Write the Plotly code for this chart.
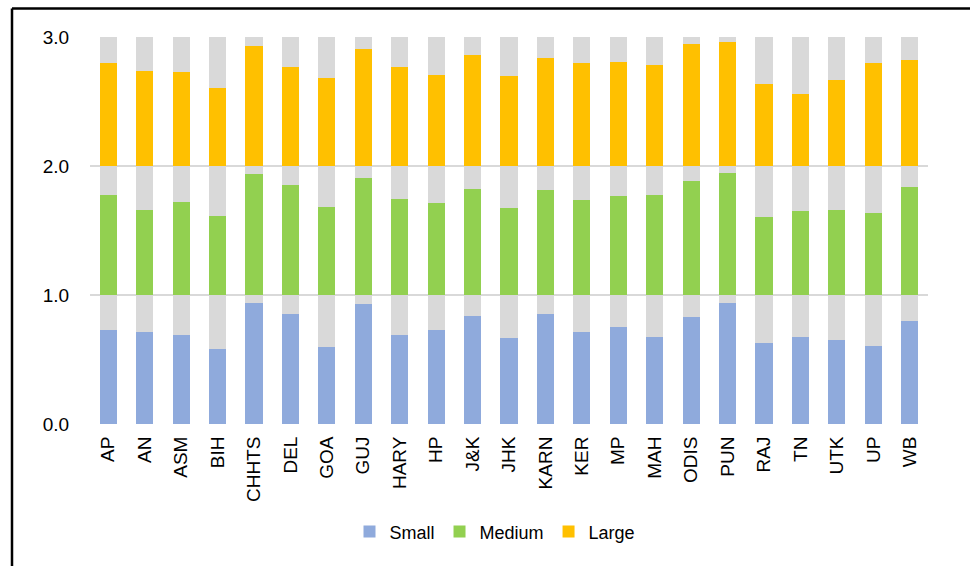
import plotly.graph_objects as go

states = ["AP", "AN", "ASM", "BIH", "CHHTS", "DEL", "GOA", "GUJ", "HARY", "HP", "J&K",
          "JHK", "KARN", "KER", "MP", "MAH", "ODIS", "PUN", "RAJ", "TN", "UTK", "UP", "WB"]
small = [0.73, 0.71, 0.69, 0.58, 0.935, 0.855, 0.60, 0.93, 0.69, 0.73, 0.84,
         0.67, 0.85, 0.715, 0.755, 0.675, 0.83, 0.94, 0.63, 0.675, 0.655, 0.605, 0.80]
medium = [0.775, 0.66, 0.72, 0.615, 0.935, 0.85, 0.68, 0.905, 0.745, 0.715, 0.82,
          0.675, 0.815, 0.74, 0.77, 0.775, 0.885, 0.945, 0.605, 0.65, 0.66, 0.635, 0.84]
large = [0.795, 0.735, 0.73, 0.605, 0.93, 0.77, 0.68, 0.91, 0.765, 0.705, 0.86,
         0.70, 0.84, 0.80, 0.81, 0.785, 0.945, 0.96, 0.635, 0.56, 0.665, 0.795, 0.82]
yticks = [0, 1, 2, 3]

colors = {"Small": "#8FAADC", "Medium": "#92D050", "Large": "#FFC000"}
grey = "#D9D9D9"

fig = go.Figure()
for name, vals in [("Small", small), ("Medium", medium), ("Large", large)]:
    fig.add_trace(go.Bar(x=states, y=vals, name=name, marker_color=colors[name],
                         marker_line_width=0, hoverinfo="x+y+name"))
    fig.add_trace(go.Bar(x=states, y=[1 - v for v in vals], name=name + " rest",
                         marker_color=grey, marker_line_width=0, showlegend=False,
                         hoverinfo="skip"))

W, H = 970, 566
L, R, T, B = 90, 42, 36.5, 142
pw, ph = W - L - R, H - T - B

def px_x(x):
    return (x - L) / pw

def px_y(y):
    return (H - B - y) / ph

FONT = "Liberation Sans, Arial, sans-serif"

fig.update_layout(
    width=W, height=H,
    margin=dict(l=L, r=R, t=T, b=B, pad=0),
    barmode="stack", bargap=0.53,
    paper_bgcolor="white", plot_bgcolor="white",
    font=dict(family=FONT, size=19, color="#000000"),
    xaxis=dict(tickangle=-90, showgrid=False, showline=False,
               ticks="outside", ticklen=4, tickcolor="rgba(0,0,0,0)",
               tickfont=dict(size=19, family=FONT), automargin=False),
    yaxis=dict(range=[0, 3], tickvals=yticks, tickformat=".1f", showgrid=True,
               gridcolor=grey, gridwidth=2, zeroline=False, showline=False,
               ticks="outside", ticklen=16, tickcolor="rgba(0,0,0,0)",
               tickfont=dict(size=19, family=FONT), automargin=False),
    showlegend=True,
    legend=dict(orientation="h", x=px_x(495), xanchor="center", y=px_y(532), yanchor="middle",
                font=dict(size=18, family=FONT),
                itemwidth=30, traceorder="normal", bgcolor="rgba(0,0,0,0)"),
    shapes=[
        dict(type="line", xref="paper", yref="paper", x0=px_x(12), x1=px_x(980),
             y0=px_y(8), y1=px_y(8), line=dict(color="black", width=2.5)),
        dict(type="line", xref="paper", yref="paper", x0=px_x(12), x1=px_x(12),
             y0=px_y(8), y1=px_y(580), line=dict(color="black", width=2.5)),
    ],
)

fig.write_html("out.html")
